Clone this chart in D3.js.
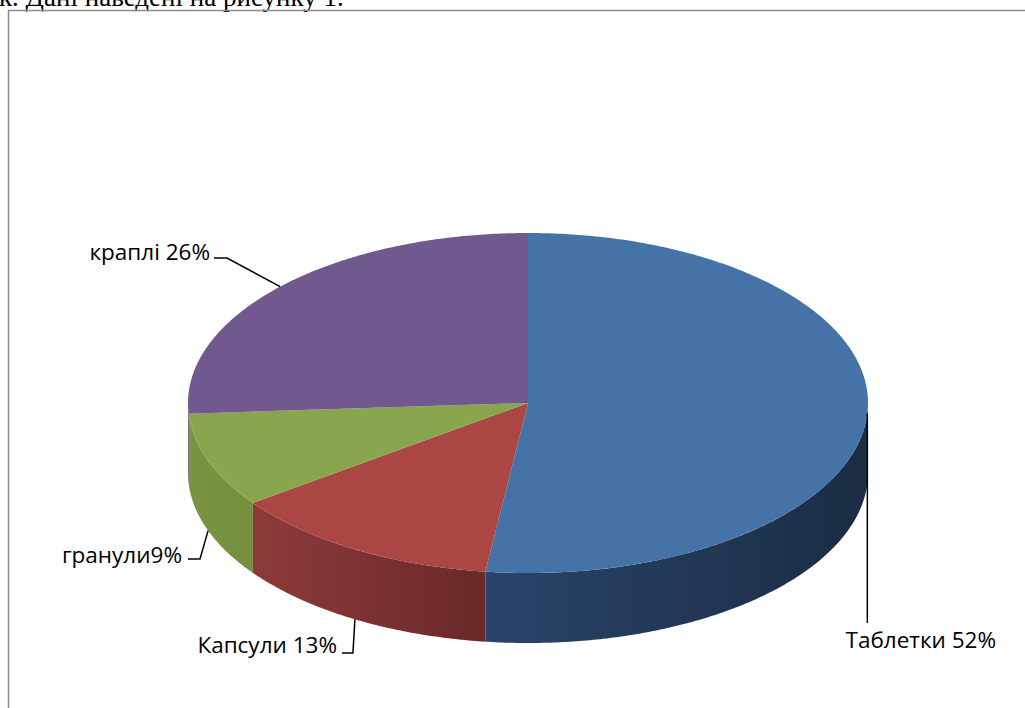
<!DOCTYPE html>
<html>
<head>
<meta charset="utf-8">
<script src="https://cdn.jsdelivr.net/npm/d3@7"></script>
<style>
  html, body { margin: 0; padding: 0; background: #fff; }
  svg { display: block; }
</style>
</head>
<body>
<svg id="chart" width="1025" height="708"></svg>
<script>
// Dosage forms share, %
const categories = ["Таблетки", "Капсули", "гранули", "краплі"];
const values = [52, 13, 9, 26];
const labelSeparators = [" ", " ", "", " "];
const topColors = ["#4572a7", "#aa4643", "#89a54e", "#71588f"];
const sideColorsLight = ["#28456a", "#8d3b39", "#7a9443", "#5e4878"];
const sideColorsDark = ["#1b2c43", "#6a2828", "#758e3e", "#4e3c64"];

const svg = d3.select("#chart");
const W = 1025, H = 708;

// Caption line of the surrounding document, cut by the frame
svg.append("text")
  .attr("x", -1).attr("y", 6)
  .attr("font-family", "Liberation Serif, Times New Roman, serif")
  .attr("font-size", 27)
  .attr("fill", "#000")
  .text("к. Дані наведені на рисунку 1.");

// Chart frame
svg.append("path")
  .attr("d", `M8.5,${H} V10.5 H${W}`)
  .attr("fill", "none")
  .attr("stroke", "#8c8c8c")
  .attr("stroke-width", 1.5);

// Pie geometry (3D ellipse)
const cx = 528, cy = 403, rx = 340, ry = 170, depth = 70;

const pie = d3.pie().sort(null).value(d => d.value);
const arcs = pie(categories.map((c, i) => ({ name: c, value: values[i], i })));

// Angle measured clockwise from 12 o'clock
const px = a => cx + rx * Math.sin(a);
const py = a => cy - ry * Math.cos(a);

function wedgePath(a0, a1) {
  const n = Math.max(2, Math.ceil((a1 - a0) / 0.01));
  const pts = d3.range(n + 1).map(k => a0 + (a1 - a0) * k / n);
  let d = `M${cx},${cy}`;
  pts.forEach(a => { d += `L${px(a)},${py(a)}`; });
  return d + "Z";
}

function wallPath(a0, a1) {
  const n = Math.max(2, Math.ceil((a1 - a0) / 0.01));
  const pts = d3.range(n + 1).map(k => a0 + (a1 - a0) * k / n);
  let d = "";
  pts.forEach((a, k) => { d += (k ? "L" : "M") + px(a) + "," + py(a); });
  pts.slice().reverse().forEach(a => { d += `L${px(a)},${py(a) + depth}`; });
  return d + "Z";
}

const defs = svg.append("defs");
const HALF = Math.PI / 2, THREE_HALF = 3 * Math.PI / 2;

// Front walls: only the part between 90° and 270° faces the viewer
arcs.forEach(a => {
  const s = Math.max(a.startAngle, HALF);
  const e = Math.min(a.endAngle, THREE_HALF);
  if (e <= s) return;
  const gid = "wall" + a.data.i;
  const g = defs.append("linearGradient")
    .attr("id", gid)
    .attr("gradientUnits", "userSpaceOnUse")
    .attr("x1", Math.min(px(s), px(e))).attr("x2", Math.max(px(s), px(e)))
    .attr("y1", 0).attr("y2", 0);
  g.append("stop").attr("offset", 0).attr("stop-color", sideColorsLight[a.data.i]);
  g.append("stop").attr("offset", 1).attr("stop-color", sideColorsDark[a.data.i]);
  svg.append("path")
    .attr("d", wallPath(s, e))
    .attr("fill", `url(#${gid})`);
});

// Top faces
svg.append("g").selectAll("path")
  .data(arcs)
  .join("path")
  .attr("d", d => wedgePath(d.startAngle, d.endAngle))
  .attr("fill", d => topColors[d.data.i]);

// Leader lines and labels
const mid = d => (d.startAngle + d.endAngle) / 2;
const labelSpec = [
  // anchor on rim (top or bottom), then polyline and text position
  { rim: 0, path: (x, y) => [[x, y], [x, 623]], tx: 996, ty: 648, anchor: "end" },
  { rim: depth, path: (x, y) => [[x, y], [x - 2, 653], [342, 653]], tx: 337, ty: 653, anchor: "end" },
  { rim: depth, path: (x, y) => [[x, y], [200, 559], [188, 559]], tx: 182, ty: 563, anchor: "end" },
  { rim: 0, path: (x, y) => [[x, y], [227, 258], [214, 258]], tx: 210, ty: 260, anchor: "end" }
];

const line = d3.line();
const lbl = svg.append("g");
arcs.forEach(a => {
  const spec = labelSpec[a.data.i];
  const ax = px(mid(a)), ay = py(mid(a)) + spec.rim;
  lbl.append("path")
    .attr("d", line(spec.path(ax, ay)))
    .attr("fill", "none")
    .attr("stroke", "#000")
    .attr("stroke-width", 1.5);
  lbl.append("text")
    .attr("x", spec.tx).attr("y", spec.ty)
    .attr("text-anchor", spec.anchor)
    .attr("font-family", "Open Sans, Noto Sans, sans-serif")
    .attr("font-size", 22.5)
    .attr("fill", "#000")
    .text(a.data.name + labelSeparators[a.data.i] + a.data.value + "%");
});
</script>
</body>
</html>
